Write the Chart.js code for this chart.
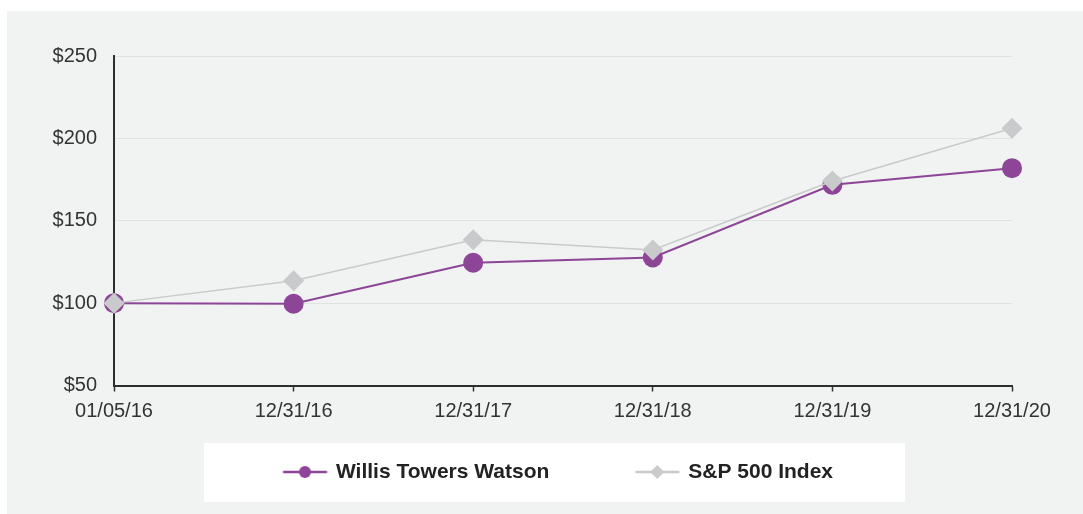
<!DOCTYPE html>
<html>
<head>
<meta charset="utf-8">
<script src="https://cdn.jsdelivr.net/npm/chart.js@4/dist/chart.umd.min.js"></script>
<style>
  html, body { margin: 0; padding: 0; background: #ffffff; }
  #wrap { width: 1083px; height: 514px; }
</style>
</head>
<body>
<div id="wrap"><canvas id="perfChart" width="1083" height="514"></canvas></div>
<script>
// Cumulative value of $100 invested
const dates = ['01/05/16', '12/31/16', '12/31/17', '12/31/18', '12/31/19', '12/31/20'];
const wtwValues = [100, 99.6, 124.5, 127.7, 171.8, 181.9];
const spxValues = [100, 113.6, 138.4, 132.3, 174.1, 206.2];
const seriesNames = ['Willis Towers Watson', 'S&P 500 Index'];
const yTicks = [50, 100, 150, 200, 250];

const PURPLE = '#8d4597';
const GRAY = '#c9cacb';
const SWATCH_BOX = 108;

// Legend marker: short line with the series marker, padded on the left
function legendSwatch(color, shape) {
    const c = document.createElement('canvas');
    c.width = SWATCH_BOX + 6;
    c.height = 24;
    const ctx = c.getContext('2d');
    const cy = 12;
    const x0 = SWATCH_BOX + 3 - 42.5;
    const x1 = SWATCH_BOX + 3 + 1.5;
    const mx = (x0 + x1) / 2;
    ctx.strokeStyle = color;
    ctx.lineWidth = 2.5;
    ctx.beginPath();
    ctx.moveTo(x0, cy);
    ctx.lineTo(x1, cy);
    ctx.stroke();
    ctx.fillStyle = color;
    ctx.beginPath();
    if (shape === 'circle') {
        ctx.arc(mx, cy, 6, 0, Math.PI * 2);
    } else {
        ctx.moveTo(mx - 7, cy);
        ctx.lineTo(mx, cy - 7);
        ctx.lineTo(mx + 7, cy);
        ctx.lineTo(mx, cy + 7);
        ctx.closePath();
    }
    ctx.fill();
    return c;
}

const swatches = [legendSwatch(PURPLE, 'circle'), legendSwatch(GRAY, 'diamond')];

// Gray panel and white legend box behind everything
const backdrop = {
    id: 'backdrop',
    beforeDraw(chart) {
        const ctx = chart.ctx;
        ctx.save();
        ctx.fillStyle = '#f1f2f2';
        ctx.fillRect(7, 11, chart.width - 7, chart.height - 11);
        ctx.fillStyle = '#ffffff';
        ctx.fillRect(204, 443, 701, 59);
        ctx.restore();
    }
};

new Chart(document.getElementById('perfChart'), {
    type: 'line',
    data: {
        labels: dates,
        datasets: [
            {
                label: seriesNames[0],
                data: wtwValues,
                borderColor: PURPLE,
                backgroundColor: PURPLE,
                borderWidth: 2,
                pointStyle: 'circle',
                pointRadius: 10,
                pointHoverRadius: 10,
                pointBorderWidth: 0,
                tension: 0,
                clip: false,
                order: 1
            },
            {
                label: seriesNames[1],
                data: spxValues,
                borderColor: GRAY,
                backgroundColor: GRAY,
                borderWidth: 1.5,
                pointStyle: 'rectRot',
                pointRadius: 10.5,
                pointHoverRadius: 10.5,
                pointBorderWidth: 0,
                tension: 0,
                clip: false,
                order: 0
            }
        ]
    },
    options: {
        responsive: false,
        animation: false,
        devicePixelRatio: 1,
        layout: {
            padding: { top: 56, left: 38.5, right: 71, bottom: 21.5 }
        },
        scales: {
            x: {
                offset: false,
                afterFit: scale => { scale.height = 55.5; },
                grid: {
                    drawOnChartArea: false,
                    drawTicks: true,
                    tickLength: 6,
                    tickWidth: 1.5,
                    tickColor: '#333333'
                },
                border: { color: '#2e2e2e', width: 2 },
                ticks: {
                    color: '#333333',
                    padding: 8,
                    maxRotation: 0,
                    autoSkip: false,
                    font: { family: 'Liberation Sans, Arial, sans-serif', size: 20 }
                }
            },
            y: {
                min: 50,
                max: 250,
                afterFit: scale => { scale.width = 75.5; },
                afterBuildTicks: scale => { scale.ticks = yTicks.map(v => ({ value: v })); },
                grid: {
                    color: '#e1e2e2',
                    lineWidth: 1,
                    drawTicks: false
                },
                border: { color: '#2e2e2e', width: 2 },
                ticks: {
                    color: '#333333',
                    padding: 17,
                    font: { family: 'Liberation Sans, Arial, sans-serif', size: 20 },
                    callback: value => '$' + value
                }
            }
        },
        plugins: {
            legend: {
                position: 'bottom',
                labels: {
                    usePointStyle: true,
                    pointStyleWidth: SWATCH_BOX,
                    padding: 20.5,
                    color: '#222222',
                    font: { family: 'Liberation Sans, Arial, sans-serif', size: 21, weight: 'bold' },
                    sort: (a, b) => a.datasetIndex - b.datasetIndex,
                    generateLabels: chart => {
                        const items = Chart.defaults.plugins.legend.labels.generateLabels(chart);
                        items.forEach(item => { item.pointStyle = swatches[item.datasetIndex]; });
                        return items;
                    }
                }
            },
            tooltip: { enabled: false }
        }
    },
    plugins: [backdrop]
});
</script>
</body>
</html>
